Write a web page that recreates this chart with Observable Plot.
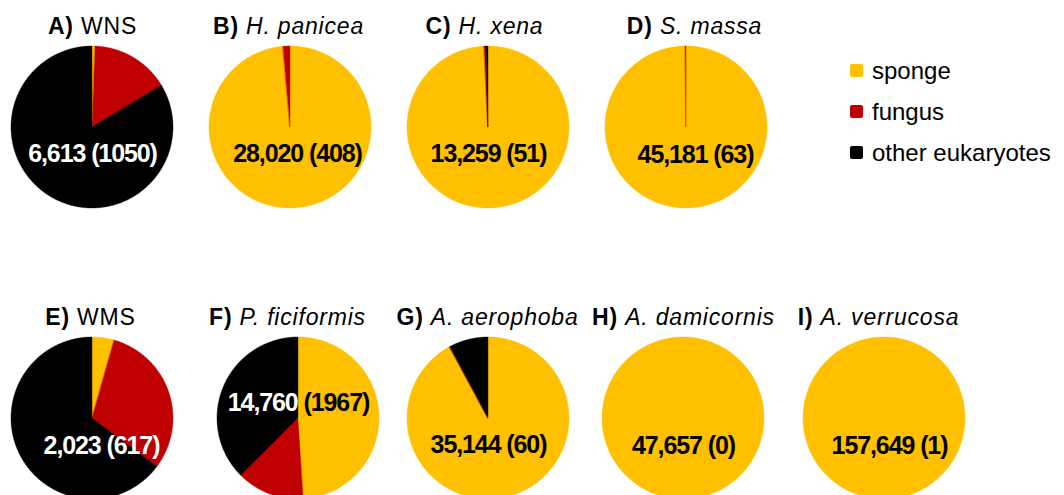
<!DOCTYPE html>
<html><head><meta charset="utf-8">
<script src="https://cdn.jsdelivr.net/npm/d3@7"></script>
<script src="https://cdn.jsdelivr.net/npm/@observablehq/plot@0.6"></script>
<style>
html,body{margin:0;padding:0;background:#fff;}
#wrap{position:relative;width:1064px;height:495px;overflow:hidden;font-family:"Liberation Sans",Arial,sans-serif;}
#legend{position:absolute;left:850px;top:50px;}
.item{display:flex;align-items:center;height:41px;line-height:41px;font-size:24px;color:#000;}
.sw{width:13px;height:13px;border-radius:2px;margin-right:9px;}
</style></head><body><div id="wrap"></div>
<script>
// ---- data ----
const panels = ["A","B","C","D","E","F","G","H","I"];
const names = ["WNS","H. panicea","H. xena","S. massa","WMS","P. ficiformis","A. aerophoba","A. damicornis","A. verrucosa"];
const italicName = [false,true,true,true,false,true,true,true,true];
const totals = ["6,613","28,020","13,259","45,181","2,023","14,760","35,144","47,657","157,649"];
const bracketCounts = [1050,408,51,63,617,1967,60,0,1];
const categories = ["sponge","fungus","other eukaryotes"];
const spongePct = [0.6, 98.6, 99.2, 99.85, 4.4, 49.0, 92.1, 100, 100];
const fungusPct = [15.8, 1.4, 0.4, 0.15, 30.8, 13.5, 0.1, 0, 0];
const otherPct  = [83.6, 0, 0.4, 0, 64.8, 37.5, 7.8, 0, 0];
const colors = ["#ffc000","#c00000","#000000"];

// ---- layout (px) ----
const W = 1064, H = 495;
const margin = {left: 92, right: 180, top: 127, bottom: 77};
const R = 81;
const xStep = (W - margin.left - margin.right) / 4;
const yStep = H - margin.top - margin.bottom;
const rx = R / xStep, ry = R / yStep;
const titleDy = -101, labelDy = 26;
const nudge = {
  B: {titleDx: -2, labelDx: 7},
  C: {titleDx: -4},
  D: {titleDx: 8, labelDx: 9, labelDy: 27},
  E: {titleDx: -2, labelDx: 9, labelDy: 27},
  F: {pieDx: 8, titleDx: -11, labelDy: -16},
  G: {titleDx: -1},
  H: {pieDx: -3, labelDy: 27},
  I: {titleDx: -6, labelDx: 5, labelDy: 27}
};
const labelFill = {A: ["#fff","#fff"], E: ["#fff","#fff"], F: ["#fff","#000"]};

const pies = panels.map((p, i) => {
  const n = nudge[p] || {};
  const col = i < 4 ? i : i - 4, row = i < 4 ? 0 : 1;
  const cx = col + (n.pieDx || 0) / xStep;
  return {panel: p, i, name: names[i], cx, cy: row,
    values: [spongePct[i], fungusPct[i], otherPct[i]],
    tx: cx + (n.titleDx || 0) / xStep, ty: row + titleDy / yStep,
    lx: cx + (n.labelDx || 0) / xStep, ly: row + (n.labelDy ?? labelDy) / yStep,
    title: `${p}) ${names[i]}`, label: `${totals[i]} (${bracketCounts[i]})`};
});

const wedges = [];
for (const pie of pies) {
  const arcs = d3.pie().sort(null).value(d => d)(pie.values);
  arcs.forEach((a, k) => {
    if (!(a.value > 0)) return;
    const n = Math.max(2, Math.ceil((a.endAngle - a.startAngle) / (Math.PI / 360)));
    for (let j = 0; j <= n; j++) {
      const t = a.startAngle + (a.endAngle - a.startAngle) * j / n;
      wedges.push({key: pie.panel + k, category: categories[k],
        x1: pie.cx, y1: pie.cy, x2: pie.cx + rx * Math.sin(t), y2: pie.cy - ry * Math.cos(t)});
    }
  });
}

const plot = Plot.plot({
  width: W, height: H,
  marginLeft: margin.left, marginRight: margin.right, marginTop: margin.top, marginBottom: margin.bottom,
  x: {domain: [0, 4], axis: null},
  y: {domain: [0, 1], reverse: true, axis: null},
  color: {domain: categories, range: colors},
  style: {fontFamily: '"Liberation Sans", Arial, sans-serif', background: "white", overflow: "hidden"},
  marks: [
    Plot.area(wedges, {x1: "x1", y1: "y1", x2: "x2", y2: "y2", z: "key", fill: "category", stroke: "category", strokeWidth: 0.4, curve: "linear"}),
    Plot.text(pies, {x: "tx", y: "ty", text: "title", fontSize: 23, fill: "#000"}),
    Plot.text(pies, {x: "lx", y: "ly", text: "label", fontSize: 25, fontWeight: "bold", fill: "#000"})
  ]
});

const titleRe = /^([A-I]\))\s(.*)$/;
const labelRe = /^([\d,]+)\s(\(\d+\))$/;
d3.select(plot).selectAll("text").each(function() {
  const t = this.textContent;
  let m;
  if ((m = t.match(titleRe))) {
    const idx = names.indexOf(m[2]);
    const s = d3.select(this).text(null).style("letter-spacing", "0.8px");
    s.append("tspan").style("font-weight", "bold").text(m[1] + " ");
    s.append("tspan").style("font-style", italicName[idx] ? "italic" : "normal").text(m[2]);
  } else if ((m = t.match(labelRe))) {
    const idx = totals.indexOf(m[1]);
    const f = labelFill[panels[idx]] || ["#000", "#000"];
    const s = d3.select(this).text(null).style("letter-spacing", "-1.1px");
    s.append("tspan").style("fill", f[0]).text(m[1] + " ");
    s.append("tspan").style("fill", f[1]).text(m[2]);
  }
});

const wrap = document.getElementById("wrap");
wrap.appendChild(plot);
const legend = document.createElement("div");
legend.id = "legend";
categories.forEach((c, k) => {
  const it = document.createElement("div"); it.className = "item";
  const sw = document.createElement("span"); sw.className = "sw"; sw.style.background = colors[k];
  const tx = document.createElement("span"); tx.textContent = c;
  it.appendChild(sw); it.appendChild(tx); legend.appendChild(it);
});
wrap.appendChild(legend);
</script></body></html>
